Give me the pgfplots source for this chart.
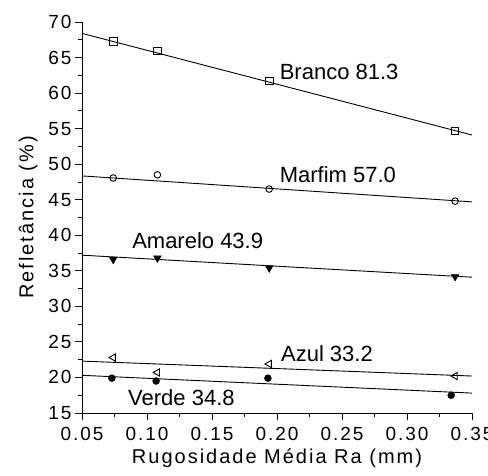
\documentclass[border=0pt]{standalone}
\usepackage{fontspec}
\setmainfont{Liberation Sans}
\newfontfamily\spaced[LetterSpace=10]{Liberation Sans}
\usepackage{pgfplots}
\pgfplotsset{compat=1.18}

\begin{document}
\begin{tikzpicture}
\begin{axis}[
  scale only axis,
  width=390pt, height=391pt,
  xmin=0.05, xmax=0.35,
  ymin=15, ymax=70,
  xtick={0.05,0.10,...,0.35},
  ytick={15,20,...,70},
  minor x tick num=1,
  minor y tick num=1,
  axis x line*=bottom,
  axis y line*=left,
  tick align=outside,
  major tick length=7pt,
  minor tick length=4pt,
  every tick/.style={black, line width=0.9pt},
  axis line style={line width=0.9pt},
  /pgf/number format/assume math mode=true,
  xticklabel style={yshift=-4pt, /pgf/number format/.cd, fixed, fixed zerofill, precision=2},
  ticklabel style={font=\spaced\fontsize{19}{22}\selectfont},
  xlabel={\spaced Rugosidade Média Ra (mm)},
  ylabel={\spaced Refletância (\%)},
  label style={font=\fontsize{20}{24}\selectfont},
  xlabel style={yshift=-1pt},
  ylabel style={yshift=4pt},
  clip=false,
]
  \coordinate (sw) at (rel axis cs:0,0);
  \coordinate (ne) at (rel axis cs:1,1);

  % fitted lines
  \addplot[black, line width=0.9pt] coordinates {(0.05,68.4) (0.35,54.1)};
  \addplot[black, line width=0.9pt] coordinates {(0.05,48.35) (0.35,44.7)};
  \addplot[black, line width=0.9pt] coordinates {(0.05,37.2) (0.35,34.1)};
  \addplot[black, line width=0.9pt] coordinates {(0.05,22.3) (0.35,20.2)};
  \addplot[black, line width=0.9pt] coordinates {(0.05,20.3) (0.35,17.8)};

  % Branco
  \addplot[only marks, mark=square, mark size=3.8pt, mark options={black, fill=white, line width=0.9pt}]
    coordinates {(0.074,67.3) (0.108,65.9) (0.194,61.7) (0.337,54.7)};
  % Marfim
  \addplot[only marks, mark=o, mark size=3.3pt, mark options={black, fill=white, line width=0.9pt}]
    coordinates {(0.074,48.06) (0.108,48.5) (0.194,46.5) (0.337,44.8)};
  % Amarelo
  \addplot[only marks, mark=triangle*, mark size=4.5pt, mark options={black, fill=black, rotate=180}]
    coordinates {(0.074,36.6) (0.108,36.8) (0.194,35.4) (0.337,34.2)};
  % Azul
  \addplot[only marks, mark=triangle, mark size=4.2pt, mark options={black, fill=white, rotate=90, line width=0.9pt}]
    coordinates {(0.074,22.8) (0.108,20.7) (0.194,21.9) (0.337,20.2)};
  % Verde
  \addplot[only marks, mark=*, mark size=3.5pt, mark options={black, fill=black}]
    coordinates {(0.073,19.9) (0.107,19.5) (0.193,19.9) (0.334,17.5)};

  \begin{scope}[every node/.style={anchor=west, inner sep=0pt, font=\fontsize{22}{25}\selectfont}]
    \node at (axis cs:0.202,63.0) {Branco 81.3};
    \node at (axis cs:0.202,48.5) {Marfim 57.0};
    \node at (axis cs:0.0885,39.3) {Amarelo 43.9};
    \node at (axis cs:0.203,23.4) {Azul 33.2};
    \node at (axis cs:0.0854,17.1) {Verde 34.8};
  \end{scope}
\end{axis}
\pgfresetboundingbox
\path[use as bounding box] ([shift={(-82pt,-62pt)}]sw) rectangle ([shift={(16pt,22pt)}]ne);
\end{tikzpicture}
\end{document}
